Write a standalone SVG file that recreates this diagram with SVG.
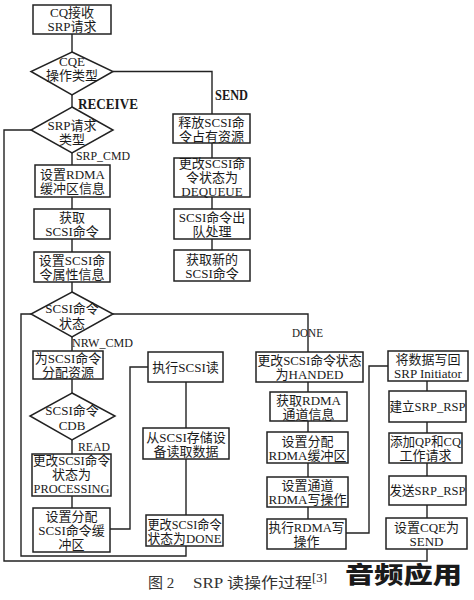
<svg xmlns="http://www.w3.org/2000/svg" width="474" height="600" viewBox="0 0 474 600">
<style>
.bx{fill:#fff;stroke:#222;stroke-width:1.5}
.ln{fill:none;stroke:#222;stroke-width:1.4}
text{font-family:"Liberation Serif","Noto Sans CJK SC",serif;font-size:13px;fill:#1a1a1a}
.c{text-anchor:middle}
.lb{font-weight:bold;font-size:14px}
.cap{font-size:15px;fill:#333}
.big{font-family:"Noto Sans CJK SC",sans-serif;font-weight:900;font-size:23px}
</style>
<rect width="474" height="600" fill="#fff"/>
<g id="connectors">
<path class="ln" d="M72,34V52M72,95V107M113,71.5H212V114M212,143V158M212,197V209M212,239V250M72,153V165M72,197V209M72,239V252M72,282V292M72,337V351M72,379V393M72,440V454M72,496V508"/>
<path class="ln" d="M31,130H4V561H427V549"/>
<path class="ln" d="M31,314H21V556H186V546"/>
<path class="ln" d="M113,314H308V352"/>
<path class="ln" d="M110,529H130V367H148"/>
<path class="ln" d="M186,382V428M186,459V515"/>
<path class="ln" d="M308,382V392M308,421V432M308,463V477M308,507V519"/>
<path class="ln" d="M346,533H369V366H388"/>
<path class="ln" d="M427,381V391M427,422V433M427,463V476M427,505V518"/>
</g>
<g id="labels">
<text class="lb" x="78" y="109" textLength="60" lengthAdjust="spacingAndGlyphs">RECEIVE</text>
<text class="lb" x="215" y="100" textLength="33" lengthAdjust="spacingAndGlyphs">SEND</text>
<text x="76" y="160" textLength="54" lengthAdjust="spacingAndGlyphs">SRP_CMD</text>
<text x="72" y="347" textLength="61" lengthAdjust="spacingAndGlyphs">NRW_CMD</text>
<text x="78" y="451" textLength="32" lengthAdjust="spacingAndGlyphs">READ</text>
<text x="292" y="337" textLength="31" lengthAdjust="spacingAndGlyphs">DONE</text>
</g>
<g id="n1"><rect class="bx" x="33" y="5" width="78" height="29"/><text class="c" x="72" y="17">CQ接收</text><text class="c" x="72" y="31">SRP请求</text></g>
<g id="d1"><polygon class="bx" points="72,52 113,71.5 72,95 31,71.5"/><text class="c" x="72" y="65.5">CQE</text><text class="c" x="72" y="79.5">操作类型</text></g>
<g id="d2"><polygon class="bx" points="72,107 113,130 72,153 31,130"/><text class="c" x="72" y="129.5">SRP请求</text><text class="c" x="72" y="143.5">类型</text></g>
<g id="b_rdma"><rect class="bx" x="35" y="165" width="75" height="32"/><text class="c" x="72.5" y="179">设置RDMA</text><text class="c" x="72.5" y="193">缓冲区信息</text></g>
<g id="b_get"><rect class="bx" x="34" y="209" width="76" height="30"/><text class="c" x="72" y="222">获取</text><text class="c" x="72" y="236">SCSI命令</text></g>
<g id="b_attr"><rect class="bx" x="34" y="252" width="76" height="30"/><text class="c" x="72" y="265">设置SCSI命</text><text class="c" x="72" y="279">令属性信息</text></g>
<g id="d3"><polygon class="bx" points="72,292 113,314 72,337 31,314"/><text class="c" x="72" y="312.5">SCSI命令</text><text class="c" x="72" y="327.5">状态</text></g>
<g id="b_alloc"><rect class="bx" x="33" y="351" width="70" height="28"/><text class="c" x="68" y="362.5">为SCSI命令</text><text class="c" x="68" y="376.5">分配资源</text></g>
<g id="d4"><polygon class="bx" points="72,393 115,416 72,440 30,416"/><text class="c" x="72" y="415">SCSI命令</text><text class="c" x="72" y="430">CDB</text></g>
<g id="b_proc"><rect class="bx" x="32" y="454" width="79" height="42"/><text class="c" x="71.5" y="465" textLength="77" lengthAdjust="spacingAndGlyphs">更改SCSI命令</text><text class="c" x="71.5" y="479">状态为</text><text class="c" x="71.5" y="493" textLength="76" lengthAdjust="spacingAndGlyphs">PROCESSING</text></g>
<g id="b_buf"><rect class="bx" x="33" y="508" width="77" height="44"/><text class="c" x="71.5" y="521">设置分配</text><text class="c" x="71.5" y="535">SCSI命令缓</text><text class="c" x="71.5" y="549">冲区</text></g>
<g id="b_exec"><rect class="bx" x="148" y="352" width="75" height="30"/><text class="c" x="185.5" y="371.5">执行SCSI读</text></g>
<g id="b_readdata"><rect class="bx" x="143" y="428" width="86" height="31"/><text class="c" x="186" y="441.5">从SCSI存储设</text><text class="c" x="186" y="455.5">备读取数据</text></g>
<g id="b_done"><rect class="bx" x="146" y="515" width="77" height="31"/><text class="c" x="184.5" y="528.5" textLength="74" lengthAdjust="spacingAndGlyphs">更改SCSI命令</text><text class="c" x="184.5" y="542.5" textLength="74" lengthAdjust="spacingAndGlyphs">状态为DONE</text></g>
<g id="b_rel"><rect class="bx" x="173" y="114" width="77" height="29"/><text class="c" x="211.5" y="126.5">释放SCSI命</text><text class="c" x="211.5" y="140.5">令占有资源</text></g>
<g id="b_deq"><rect class="bx" x="174" y="158" width="76" height="39"/><text class="c" x="212" y="168">更改SCSI命</text><text class="c" x="212" y="182">令状态为</text><text class="c" x="212" y="196">DEQUEUE</text></g>
<g id="b_out"><rect class="bx" x="174" y="209" width="76" height="30"/><text class="c" x="212" y="222">SCSI命令出</text><text class="c" x="212" y="236">队处理</text></g>
<g id="b_new"><rect class="bx" x="174" y="250" width="76" height="31"/><text class="c" x="212" y="263.5">获取新的</text><text class="c" x="212" y="277.5">SCSI命令</text></g>
<g id="b_handed"><rect class="bx" x="256" y="352" width="107" height="30"/><text class="c" x="309.5" y="365" textLength="104" lengthAdjust="spacingAndGlyphs">更改SCSI命令状态</text><text class="c" x="309.5" y="379">为HANDED</text></g>
<g id="b_ch"><rect class="bx" x="270" y="392" width="77" height="29"/><text class="c" x="308.5" y="404.5">获取RDMA</text><text class="c" x="308.5" y="418.5">通道信息</text></g>
<g id="b_rbuf"><rect class="bx" x="267" y="432" width="81" height="31"/><text class="c" x="307.5" y="445.5">设置分配</text><text class="c" x="307.5" y="459.5">RDMA缓冲区</text></g>
<g id="b_wop"><rect class="bx" x="267" y="477" width="81" height="30"/><text class="c" x="307.5" y="490">设置通道</text><text class="c" x="307.5" y="504">RDMA写操作</text></g>
<g id="b_rdw"><rect class="bx" x="267" y="519" width="79" height="30"/><text class="c" x="306.5" y="532" textLength="76" lengthAdjust="spacingAndGlyphs">执行RDMA写</text><text class="c" x="306.5" y="546">操作</text></g>
<g id="b_wb"><rect class="bx" x="388" y="351" width="80" height="30"/><text class="c" x="428" y="364">将数据写回</text><text class="c" x="428" y="378">SRP Initiator</text></g>
<g id="b_rsp"><rect class="bx" x="389" y="391" width="77" height="31"/><text class="c" x="427.5" y="411" textLength="76" lengthAdjust="spacingAndGlyphs">建立SRP_RSP</text></g>
<g id="b_qp"><rect class="bx" x="389" y="433" width="73" height="30"/><text class="c" x="425.5" y="446" textLength="71" lengthAdjust="spacingAndGlyphs">添加QP和CQ</text><text class="c" x="425.5" y="460">工作请求</text></g>
<g id="b_send"><rect class="bx" x="389" y="476" width="77" height="29"/><text class="c" x="427.5" y="495" textLength="76" lengthAdjust="spacingAndGlyphs">发送SRP_RSP</text></g>
<g id="b_cqe"><rect class="bx" x="386" y="518" width="81" height="31"/><text class="c" x="426.5" y="531.5">设置CQE为</text><text class="c" x="426.5" y="545.5">SEND</text></g>
<g id="caption">
<text class="cap" x="148" y="588">图 2</text>
<text class="cap" x="193" y="588" textLength="119" lengthAdjust="spacingAndGlyphs">SRP 读操作过程</text>
<text x="312" y="582" font-size="10" fill="#333">[3]</text>
<text class="big" x="345" y="583" textLength="117" lengthAdjust="spacingAndGlyphs">音频应用</text>
</g>
</svg>
